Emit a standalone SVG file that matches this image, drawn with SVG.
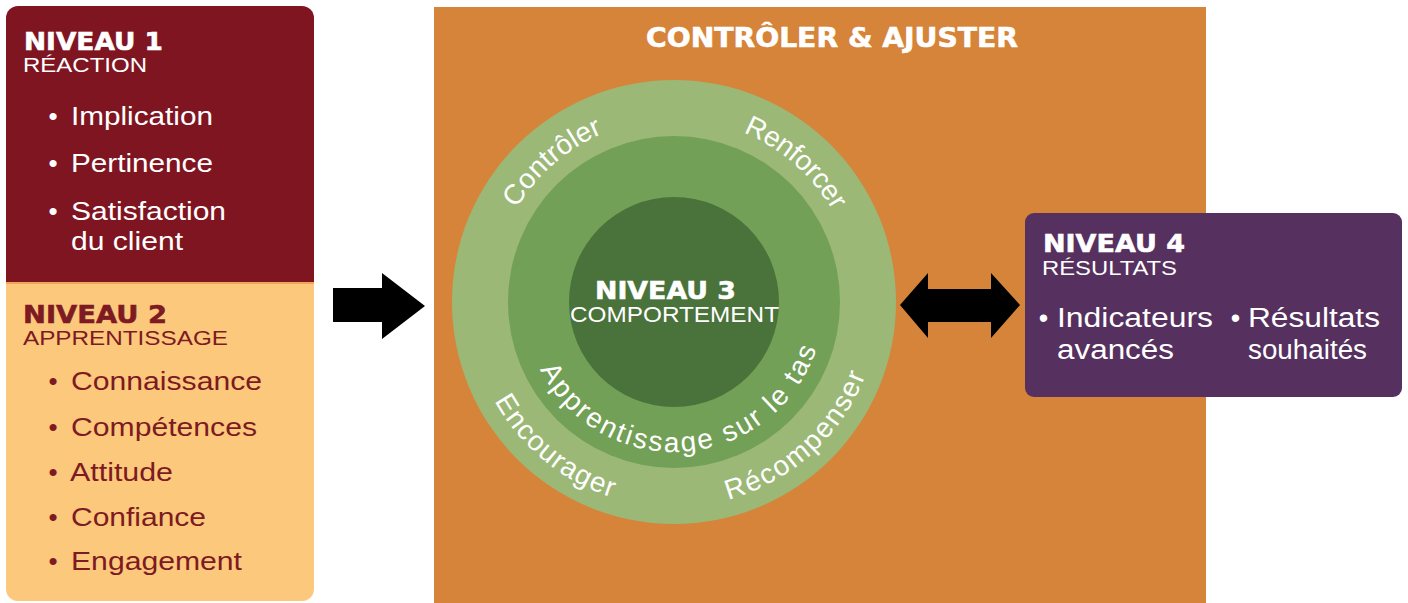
<svg xmlns="http://www.w3.org/2000/svg" xmlns:xlink="http://www.w3.org/1999/xlink" width="1408" height="603" viewBox="0 0 1408 603">
<style>
.hdr{font-family:"DejaVu Sans","Liberation Sans",Arial,sans-serif;font-weight:bold;stroke-width:0.6;}
.sub{font-family:"Liberation Sans",Arial,sans-serif;font-size:21px;}
.li{font-family:"Liberation Sans",Arial,sans-serif;font-size:26px;}
.li4{font-family:"Liberation Sans",Arial,sans-serif;font-size:27px;fill:#ffffff;}
.ring{font-family:"Liberation Sans",Arial,sans-serif;font-size:28px;fill:#ffffff;}
.w{fill:#ffffff;}
.hdr.w{stroke:#ffffff;}
.r{fill:#7d1a22;}
.hdr.r{stroke:#7d1a22;}
.mid{text-anchor:middle;}
</style>
<defs>
<path id="topOuter" d="M 491 302 A 183 183 0 0 1 857 302"/>
<path id="botOuter" d="M 469 302 A 205 205 0 0 0 879 302"/>
<path id="botMid" d="M 524 302 A 150 150 0 0 0 824 302"/>
<clipPath id="panelClip"><rect x="6" y="6" width="308" height="595" rx="12"/></clipPath>
</defs>
<rect width="1408" height="603" fill="#ffffff"/>

<g id="niveau1-2">
<g clip-path="url(#panelClip)">
<rect x="6" y="6" width="308" height="277" fill="#801522"/>
<rect x="6" y="283" width="308" height="320" fill="#fcc87c"/>
<rect x="6" y="282" width="308" height="2" fill="#f0a65a"/>
</g>
<g id="niveau1">
<text class="hdr w" x="24" y="50" font-size="25" textLength="139" lengthAdjust="spacingAndGlyphs">NIVEAU 1</text>
<text class="sub w" x="23" y="72" textLength="124" lengthAdjust="spacingAndGlyphs">RÉACTION</text>
<text class="li w mid" x="53" y="125">•</text>
<text class="li w" x="71" y="125" textLength="142" lengthAdjust="spacingAndGlyphs">Implication</text>
<text class="li w mid" x="53" y="172">•</text>
<text class="li w" x="71" y="172" textLength="142" lengthAdjust="spacingAndGlyphs">Pertinence</text>
<text class="li w mid" x="53" y="220">•</text>
<text class="li w" x="71" y="220" textLength="155" lengthAdjust="spacingAndGlyphs">Satisfaction</text>
<text class="li w" x="71" y="250" textLength="112" lengthAdjust="spacingAndGlyphs">du client</text>
</g>
<g id="niveau2">
<text class="hdr r" x="23" y="323" font-size="25" textLength="144" lengthAdjust="spacingAndGlyphs">NIVEAU 2</text>
<text class="sub r" x="23" y="345" textLength="205" lengthAdjust="spacingAndGlyphs">APPRENTISSAGE</text>
<text class="li r mid" x="53" y="390">•</text>
<text class="li r" x="71" y="390" textLength="191" lengthAdjust="spacingAndGlyphs">Connaissance</text>
<text class="li r mid" x="53" y="436">•</text>
<text class="li r" x="71" y="436" textLength="186" lengthAdjust="spacingAndGlyphs">Compétences</text>
<text class="li r mid" x="53" y="481">•</text>
<text class="li r" x="70" y="481" textLength="103" lengthAdjust="spacingAndGlyphs">Attitude</text>
<text class="li r mid" x="53" y="526">•</text>
<text class="li r" x="71" y="526" textLength="135" lengthAdjust="spacingAndGlyphs">Confiance</text>
<text class="li r mid" x="53" y="570">•</text>
<text class="li r" x="71" y="570" textLength="171" lengthAdjust="spacingAndGlyphs">Engagement</text>
</g>
</g>

<g id="controler-ajuster">
<rect x="434" y="7" width="772" height="596" fill="#d6843a"/>
<text class="hdr w" x="646" y="47" font-size="26" textLength="372" lengthAdjust="spacingAndGlyphs">CONTRÔLER &amp; AJUSTER</text>
</g>

<g id="niveau3">
<circle cx="674" cy="302" r="222" fill="#9bb877"/>
<circle cx="674" cy="302" r="166" fill="#72a056"/>
<circle cx="674" cy="302" r="105" fill="#4a723b"/>
<text class="hdr w" x="595" y="299" font-size="25" textLength="141" lengthAdjust="spacingAndGlyphs">NIVEAU 3</text>
<text class="w" x="570" y="322" font-family="Liberation Sans, Arial, sans-serif" font-size="22" textLength="209" lengthAdjust="spacingAndGlyphs">COMPORTEMENT</text>
<text class="ring" letter-spacing="0.1"><textPath xlink:href="#topOuter" href="#topOuter" startOffset="27.2%" text-anchor="middle">Contrôler</textPath></text>
<text class="ring" letter-spacing="-0.3"><textPath xlink:href="#topOuter" href="#topOuter" startOffset="72.8%" text-anchor="middle">Renforcer</textPath></text>
<text class="ring" letter-spacing="1.2"><textPath xlink:href="#botOuter" href="#botOuter" startOffset="28.2%" text-anchor="middle">Encourager</textPath></text>
<text class="ring" letter-spacing="1.8"><textPath xlink:href="#botOuter" href="#botOuter" startOffset="73.6%" text-anchor="middle">Récompenser</textPath></text>
<text class="ring" letter-spacing="2.3"><textPath xlink:href="#botMid" href="#botMid" startOffset="52.6%" text-anchor="middle">Apprentissage sur le tas</textPath></text>
</g>

<g id="niveau4">
<rect x="1025" y="213" width="377" height="184" rx="9" fill="#56305e"/>
<text class="hdr w" x="1043" y="252" font-size="25" textLength="142" lengthAdjust="spacingAndGlyphs">NIVEAU 4</text>
<text class="sub w" x="1042" y="275" textLength="135" lengthAdjust="spacingAndGlyphs">RÉSULTATS</text>
<text class="li4 mid" x="1043.5" y="327">•</text>
<text class="li4" x="1057" y="327" textLength="156" lengthAdjust="spacingAndGlyphs">Indicateurs</text>
<text class="li4" x="1057" y="359" textLength="117" lengthAdjust="spacingAndGlyphs">avancés</text>
<text class="li4 mid" x="1235.5" y="327">•</text>
<text class="li4" x="1248" y="327" textLength="132" lengthAdjust="spacingAndGlyphs">Résultats</text>
<text class="li4" x="1248" y="359" textLength="119" lengthAdjust="spacingAndGlyphs">souhaités</text>
</g>

<g id="connectors" fill="#000000">
<polygon points="333,288 382,288 382,273 425,306 382,339 382,322 333,322"/>
<polygon points="900,305 928,273 928,289 991,289 991,273 1020,305 991,338 991,322 928,322 928,338"/>
</g>
</svg>
